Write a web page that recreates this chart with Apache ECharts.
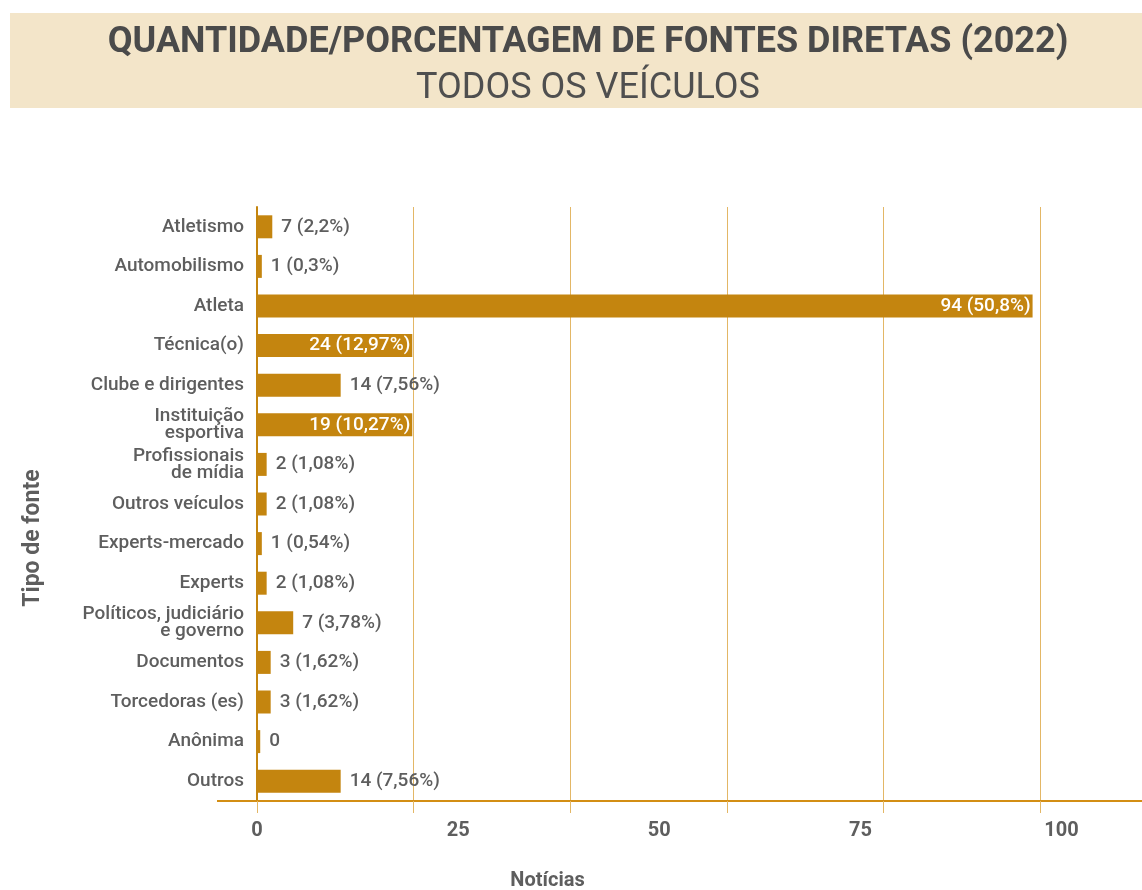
<!DOCTYPE html>
<html>
<head>
<meta charset="utf-8">
<script src="https://cdn.jsdelivr.net/npm/echarts@6/dist/echarts.min.js"></script>
<style>
  html, body { margin: 0; padding: 0; background: #fff; }
  #chart { width: 1142px; height: 890px; }
</style>
</head>
<body>
<div id="chart"></div>
<script>
const categories = [
  "Atletismo", "Automobilismo", "Atleta", "Técnica(o)", "Clube e dirigentes",
  "Instituição\nesportiva", "Profissionais\nde mídia", "Outros veículos",
  "Experts-mercado", "Experts", "Políticos, judiciário\ne governo",
  "Documentos", "Torcedoras (es)", "Anônima", "Outros"
];
const counts = [7, 1, 94, 24, 14, 19, 2, 2, 1, 2, 7, 3, 3, 0, 14];
const shares = [
  "2,2%", "0,3%", "50,8%", "12,97%", "7,56%", "10,27%", "1,08%", "1,08%",
  "0,54%", "1,08%", "3,78%", "1,62%", "1,62%", null, "7,56%"
];
// bar lengths as they are drawn in the picture
const barValues = [1.9, 0.6, 96.4, 19.3, 10.4, 19.3, 1.2, 1.2, 0.6, 1.2, 4.5, 1.7, 1.7, 0.4, 10.4];

const barColor = "#C4850F";
const gridColor = "#E3B766";
const textColor = "#5e5e5e";

var chartDom = document.getElementById("chart");
var myChart = echarts.init(chartDom);

const seriesData = barValues.map(function (v, i) {
  const inside = v > 15;
  return {
    value: v,
    label: inside
      ? { position: "insideRight", distance: 2, color: "#fff" }
      : { position: "right", distance: 9, color: textColor }
  };
});

var option = {
  backgroundColor: "#fff",
  textStyle: { fontFamily: "Roboto" },
  graphic: [
    {
      type: "rect",
      shape: { x: 10, y: 13, width: 1132, height: 95 },
      style: { fill: "#F3E5C9" },
      z: -1
    },
    {
      type: "line",
      shape: { x1: 217, y1: 801, x2: 258, y2: 801 },
      style: { stroke: "#D38E14", lineWidth: 2 }
    }
  ],
  title: {
    text: "QUANTIDADE/PORCENTAGEM DE FONTES DIRETAS (2022)",
    subtext: "TODOS OS VEÍCULOS",
    left: 583,
    top: 20,
    textAlign: "center",
    itemGap: 10,
    textStyle: {
      fontFamily: "Roboto",
      fontSize: 36,
      fontWeight: "bold",
      color: "#4a4a4a"
    },
    subtextStyle: {
      fontFamily: "Roboto",
      fontSize: 36,
      fontWeight: 400,
      color: "#4f4f4f"
    }
  },
  grid: {
    left: 257,
    right: 0,
    top: 207,
    bottom: 89,
    containLabel: false,
    outerBoundsMode: "none"
  },
  xAxis: [
    {
      type: "value",
      min: 0,
      max: 110,
      interval: 25,
      name: "Notícias",
      nameLocation: "middle",
      nameGap: 70,
      nameTextStyle: {
        fontSize: 20,
        fontWeight: "bold",
        color: textColor,
        padding: [0, 304, 0, 0]
      },
      axisLine: { show: true, lineStyle: { color: "#D38E14", width: 2 } },
      axisTick: { show: false },
      splitLine: { show: false },
      axisLabel: {
        showMaxLabel: false,
        margin: 20,
        fontSize: 20,
        fontWeight: "bold",
        color: textColor
      }
    },
    {
      type: "value",
      position: "bottom",
      min: 0,
      max: 113,
      interval: 20,
      axisLine: { show: false },
      axisTick: { show: true, inside: false, length: 12, lineStyle: { color: gridColor, width: 1 } },
      axisLabel: { show: false },
      splitLine: { show: true, lineStyle: { color: gridColor, width: 1 } }
    }
  ],
  yAxis: {
    type: "category",
    inverse: true,
    data: categories,
    name: "Tipo de fonte",
    nameLocation: "middle",
    nameGap: 212,
    nameRotate: 90,
    nameTextStyle: {
      fontSize: 23,
      fontWeight: "bold",
      color: textColor,
      padding: [0, 68, 0, 0]
    },
    axisLine: { show: true, lineStyle: { color: barColor, width: 2 } },
    axisTick: { show: false },
    axisLabel: {
      margin: 13,
      fontSize: 19,
      fontWeight: 500,
      lineHeight: 17,
      color: textColor
    }
  },
  series: [
    {
      type: "bar",
      xAxisIndex: 0,
      barWidth: 23,
      itemStyle: { color: barColor },
      data: seriesData,
      label: {
        show: true,
        fontSize: 19,
        fontWeight: 500,
        formatter: function (p) {
          const i = p.dataIndex;
          return shares[i] ? counts[i] + " (" + shares[i] + ")" : String(counts[i]);
        }
      }
    }
  ]
};

option && myChart.setOption(option);
</script>
</body>
</html>
